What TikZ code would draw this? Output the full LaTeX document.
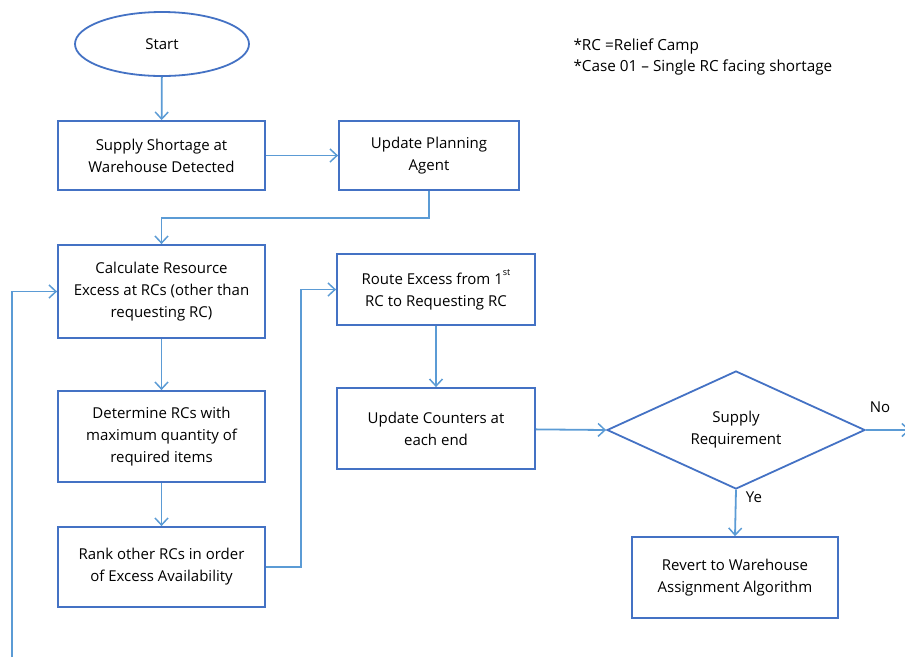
\documentclass[tikz,border=0pt]{standalone}
\usepackage{fontspec}
\setmainfont{Open Sans}
\usetikzlibrary{arrows.meta,shapes.geometric}
\definecolor{boxline}{HTML}{4472C4}
\definecolor{flowline}{HTML}{5B9BD5}
\begin{document}
\begin{tikzpicture}[x=1pt,y=-1pt,
  every node/.style={font=\fontsize{15}{22}\selectfont, text=black},
  stepbox/.style={draw=boxline, line width=1.8pt, rectangle, inner sep=0pt, align=center},
  decision/.style={draw=boxline, line width=1.8pt, diamond, inner sep=0pt, align=center,
    minimum width=258pt, minimum height=118pt, shape aspect=2.19},
  terminal/.style={draw=boxline, line width=1.8pt, ellipse, inner sep=0pt,
    minimum width=174pt, minimum height=64pt},
  flow/.style={draw=flowline, line width=1.8pt, -{Straight Barb[length=7pt,width=13pt,line width=1.5pt]}},
  note/.style={anchor=west, align=left, font=\fontsize{15.3}{22}\selectfont}]
\useasboundingbox (0,0) rectangle (905,657);

% process steps
\node[terminal] (start) at (162,44) {Start};
\node[stepbox, minimum width=207pt, minimum height=69pt] (detect) at (161.5,155.5)
  {Supply Shortage at\\Warehouse Detected};
\node[stepbox, minimum width=180pt, minimum height=69pt] (plan) at (429,155.5)
  {Update Planning\\Agent};
\node[stepbox, minimum width=207pt, minimum height=93pt] (calc) at (161.5,291.5)
  {Calculate Resource\\Excess at RCs (other than\\requesting RC)};
\node[stepbox, minimum width=207pt, minimum height=91pt] (determine) at (161.5,436.5)
  {Determine RCs with\\maximum quantity of\\required items};
\node[stepbox, minimum width=207pt, minimum height=80pt] (rank) at (161.5,567)
  {Rank other RCs in order\\of Excess Availability};
\node[stepbox, minimum width=198pt, minimum height=71pt] (route) at (436,289.5)
  {Route Excess from 1\raisebox{1.1ex}{\fontsize{9}{9}\selectfont st}\\RC to Requesting RC};
\node[stepbox, minimum width=198pt, minimum height=81pt] (counters) at (436,428.5)
  {Update Counters at\\each end};
\node[decision] (supply) at (736,430) {Supply\\Requirement};
\node[stepbox, minimum width=206pt, minimum height=81pt] (revert) at (735,577.5)
  {Revert to Warehouse\\Assignment Algorithm};

% notes
\node[note] (n1) at (570,46) {*RC =Relief Camp};
\node[note] (n2) at (570,67) {*Case 01 – Single RC facing shortage};

% helper points for routed connectors
\coordinate (j1) at (300,218);
\coordinate (j2) at (301,430);
\coordinate (loopfoot) at (12,657);
\coordinate (noend) at (910,430);

% connectors
\draw[flow] (start) -- (detect);
\draw[flow] (detect) -- (plan);
\draw[flow] (plan.south) -- (plan.south |- j1) -| (calc.north);
\draw[flow] (calc) -- (determine);
\draw[flow] (determine) -- (rank);
\draw[flow] (rank.east) -| (j2) |- (route.west);
\draw[flow] (route) -- (counters);
\draw[flow] (counters) -- (supply.west);
\draw[flow] (supply.east) -- (noend);
\draw[flow] (supply.south) -- (revert.north);
\draw[flow] (loopfoot) |- (calc.west);

% branch labels
\node (no) at (880,407) {No};
\node (ye) at (754,497) {Ye};
\end{tikzpicture}
\end{document}
